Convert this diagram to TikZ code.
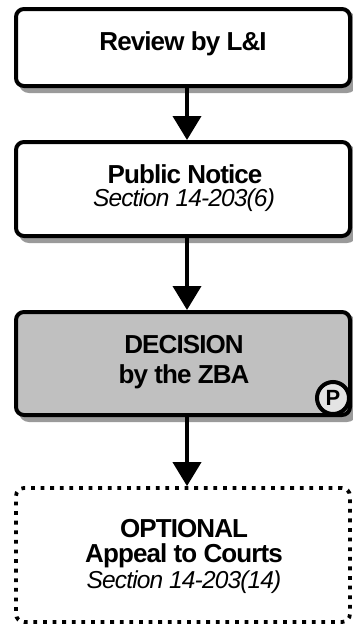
\documentclass[tikz,border=0pt]{standalone}
\usepackage{fontspec}
\setmainfont{Liberation Sans}
\usetikzlibrary{arrows.meta,shadows}
\definecolor{boxgray}{HTML}{C0C0C0}
\definecolor{shadegray}{HTML}{9A9A9A}
\definecolor{badgegray}{HTML}{E4E4E4}
\tikzset{
  stepbox/.style={draw=black, line width=4pt, rounded corners=8pt, fill=white,
    inner sep=0pt, minimum width=334pt,
    drop shadow={shadow xshift=5pt, shadow yshift=-5pt, fill=shadegray,
      draw=shadegray, line width=4pt, opacity=1}},
  optbox/.style={draw=black, line width=3.8pt, rounded corners=8pt,
    dash pattern=on 3.8pt off 5.8pt, inner sep=0pt, minimum width=334pt},
  title/.style={font=\bfseries\fontsize{26}{26}\selectfont\addfontfeatures{LetterSpace=-3.5},
    anchor=base, inner sep=0pt},
  ref/.style={font=\itshape\fontsize{24.5}{24}\selectfont\addfontfeatures{LetterSpace=-3.5},
    anchor=base, inner sep=0pt},
  flow/.style={line width=4pt, -{Triangle[width=28pt,length=24pt]}},
  badge/.style={circle, draw=black, line width=4pt, fill=badgegray,
    minimum size=32pt, inner sep=0pt, font=\bfseries\fontsize{22}{22}\selectfont}
}
\begin{document}
\begin{tikzpicture}[x=1pt,y=-1pt]
  \useasboundingbox (0,0) rectangle (353,624);

  % process steps
  \node[stepbox, minimum height=77pt] (b1) at (183,47.5) {};
  \node[stepbox, minimum height=94pt] (b2) at (183,189) {};
  \node[stepbox, minimum height=103pt, fill=boxgray] (b3) at (183,363.5) {};
  \node[optbox, minimum height=134pt] (b4) at (183,555) {};

  % labels
  \node[title] (t1) at (183,50) {Review by L\&I};
  \node[title] (t2) at (185,183) {Public Notice};
  \node[ref]   (r2) at (184,206) {Section 14-203(6)};
  \node[title] (t3) at (184,353) {DECISION};
  \node[title] (t3b) at (184,383) {by the ZBA};
  \node[title] (t4) at (184,537) {OPTIONAL};
  \node[title] (t4b) at (184,562) {Appeal to Courts};
  \node[ref]   (r4) at (184,588) {Section 14-203(14)};

  % public hearing marker
  \node[badge] (p) at (333,398) {P};

  % flow arrows
  \draw[flow] ([xshift=4pt]b1.south) -- ([xshift=4pt]b2.north);
  \draw[flow] ([xshift=4pt]b2.south) -- ([xshift=4pt]b3.north);
  \draw[flow] ([xshift=4pt]b3.south) -- ([xshift=4pt]b4.north);
\end{tikzpicture}
\end{document}
